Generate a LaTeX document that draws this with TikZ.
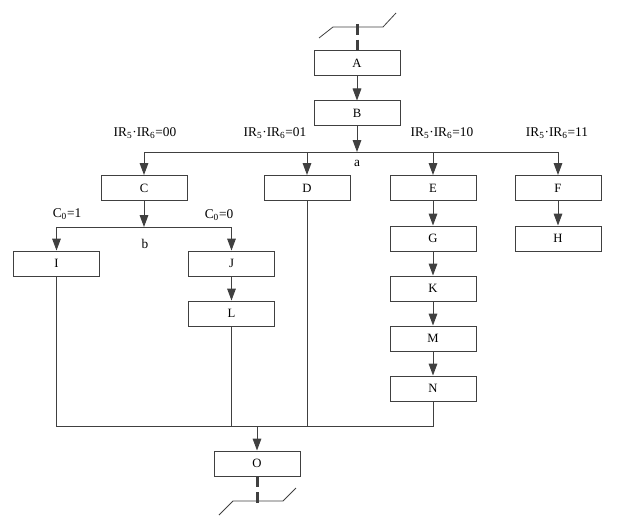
\documentclass[tikz,border=0pt]{standalone}
\usepackage{fontspec}
\setmainfont{Liberation Serif}
\usetikzlibrary{arrows.meta}
\definecolor{lc}{HTML}{404040}
\begin{document}
\begin{tikzpicture}[x=0.75pt,y=-0.75pt,
  box/.style={draw=lc, line width=0.75pt, minimum width=64.5pt, minimum height=18.75pt, inner sep=0pt, font=\fontsize{9.5}{10}\selectfont},
  ln/.style={draw=lc, line width=0.75pt},
  arr/.style={-{Triangle[length=9pt,width=6.5pt]}},
  lbl/.style={font=\fontsize{10}{11}\selectfont, inner sep=0pt},
  brk/.style={draw=lc, line width=2.25pt, dash pattern=on 8pt off 3.75pt},
  thin/.style={draw=lc, line width=0.6pt}]
\useasboundingbox (0,0) rectangle (625,517);
% boxes
\node[box] (A) at (357,63.5) {A};
\node[box] (B) at (357,113.5) {B};
\node[box] (C) at (144,188) {C};
\node[box] (D) at (307,188) {D};
\node[box] (E) at (433,188) {E};
\node[box] (F) at (558,188) {F};
\node[box] (G) at (433,238.5) {G};
\node[box] (H) at (558,238.5) {H};
\node[box] (K) at (433,288.5) {K};
\node[box] (M) at (433,338.5) {M};
\node[box] (N) at (433,388.5) {N};
\node[box] (I) at (56.5,263.5) {I};
\node[box] (J) at (231.5,263.5) {J};
\node[box] (L) at (231.5,313.5) {L};
\node[box] (O) at (257,463.5) {O};
% labels
\node[lbl] (l00) at (145,133) {IR\textsubscript{5}·IR\textsubscript{6}=00};
\node[lbl] (l01) at (275,133) {IR\textsubscript{5}·IR\textsubscript{6}=01};
\node[lbl] (l10) at (442,133) {IR\textsubscript{5}·IR\textsubscript{6}=10};
\node[lbl] (l11) at (557,133) {IR\textsubscript{5}·IR\textsubscript{6}=11};
\node[lbl] (la) at (357,163) {a};
\node[lbl] (lb) at (145,244) {b};
\node[lbl] (lc1) at (67,214) {C\textsubscript{0}=1};
\node[lbl] (lc0) at (219,215) {C\textsubscript{0}=0};
% junctions
\coordinate (ja) at (357,152);
\coordinate (jb) at (144,227);
\coordinate (m) at (257,426);
% top break
\coordinate (t1) at (319,38);
\coordinate (t2) at (333,27);
\coordinate (t3) at (383,27);
\coordinate (t4) at (396,13);
\coordinate (td) at (357,24);
\draw[thin] (t1) -- (t2) -- (t3) -- (t4);
\draw[brk] (td) -- (A.north);
% bottom break
\coordinate (b1) at (219,515);
\coordinate (b2) at (233,501);
\coordinate (b3) at (283,501);
\coordinate (b4) at (296,488);
\coordinate (bd) at (257,503);
\draw[thin] (b1) -- (b2) -- (b3) -- (b4);
\draw[brk] (O.south) -- (bd);
% connectors
\draw[ln,arr] (A) -- (B);
\draw[ln,arr] (B) -- (ja);
\draw[ln] (ja -| C) -- (ja -| F);
\draw[ln,arr] (ja -| C) -- (C);
\draw[ln,arr] (ja -| D) -- (D);
\draw[ln,arr] (ja -| E) -- (E);
\draw[ln,arr] (ja -| F) -- (F);
\draw[ln,arr] (E) -- (G);
\draw[ln,arr] (G) -- (K);
\draw[ln,arr] (K) -- (M);
\draw[ln,arr] (M) -- (N);
\draw[ln,arr] (F) -- (H);
\draw[ln,arr] (C) -- (jb);
\draw[ln] (jb -| I) -- (jb -| J);
\draw[ln,arr] (jb -| I) -- (I);
\draw[ln,arr] (jb -| J) -- (J);
\draw[ln,arr] (J) -- (L);
% merge
\draw[ln] (I.south) -- (I.south |- m) -- (N.south |- m) -- (N.south);
\draw[ln] (L.south) -- (L.south |- m);
\draw[ln] (D.south) -- (D.south |- m);
\draw[ln,arr] (m) -- (O);
\end{tikzpicture}
\end{document}
